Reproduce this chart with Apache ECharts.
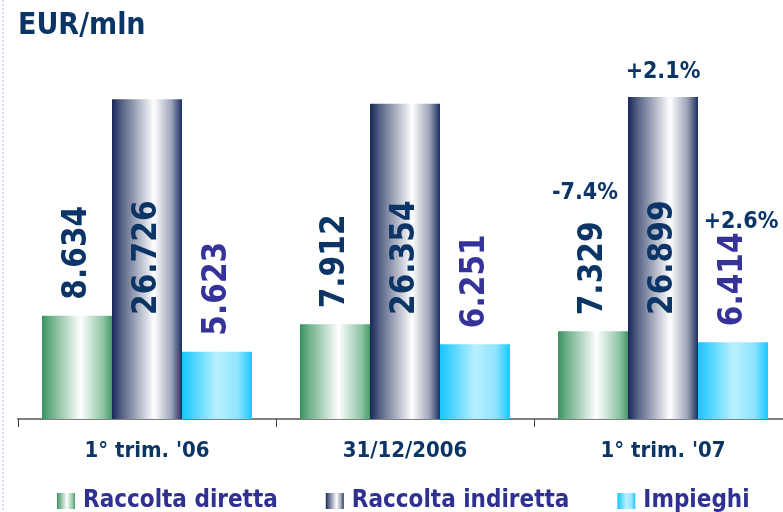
<!DOCTYPE html>
<html>
<head>
<meta charset="utf-8">
<script src="https://cdn.jsdelivr.net/npm/echarts@6/dist/echarts.min.js"></script>
<style>
html,body{margin:0;padding:0;background:#fff;}
#chart{width:783px;height:512px;}
</style>
</head>
<body>
<div id="chart"></div>
<script>
// ---- data ----
var categories = ["1° trim. '06", "31/12/2006", "1° trim. '07"];
var raccoltaDiretta = [8634, 7912, 7329];
var raccoltaIndiretta = [26726, 26354, 26899];
var impieghi = [5623, 6251, 6414];
var seriesNames = ["Raccolta diretta", "Raccolta indiretta", "Impieghi"];
var changeLabels = ["-7.4%", "+2.1%", "+2.6%"]; // last period vs 31/12/2006
var titleText = "EUR/mln";

// ---- styling ----
var FONT = '"DejaVu Sans Condensed", "DejaVu Sans", sans-serif';
var NAVY = '#0b3566';
var PURPLE = '#35339a';

function grad(stops) {
  return new echarts.graphic.LinearGradient(0, 0, 1, 0, stops.map(function (s) {
    return { offset: s[0], color: s[1] };
  }));
}
var greenGrad = grad([[0, '#38935f'], [0.12, '#6aae86'], [0.55, '#ffffff'], [0.88, '#8cc3a2'], [1, '#46996a']]);
var navyGrad = grad([[0, '#16295a'], [0.15, '#5a6587'], [0.6, '#ffffff'], [0.85, '#9ca3b8'], [1, '#1b2e60']]);
var cyanGrad = grad([[0, '#15c6ff'], [0.5, '#b8f0ff'], [0.8, '#8fe3ff'], [1, '#18c8ff']]);

function fmt(v) {
  var s = String(v);
  return s.length > 3 ? s.slice(0, s.length - 3) + '.' + s.slice(s.length - 3) : s;
}

var lastCat = categories[categories.length - 1];
function changePoint(label, value, offset) {
  return {
    coord: [lastCat, value],
    symbol: 'circle',
    symbolSize: 1,
    itemStyle: { color: 'rgba(0,0,0,0)' },
    label: {
      show: true, position: 'inside', offset: offset,
      formatter: label, color: NAVY, fontFamily: FONT, fontWeight: 'bold', fontSize: 23
    }
  };
}

var valueLabelBase = {
  show: true, rotate: 90, align: 'left', verticalAlign: 'middle',
  fontFamily: FONT, fontWeight: 'bold', fontSize: 33,
  formatter: function (p) { return fmt(p.value); }
};

var chart = echarts.init(document.getElementById('chart'), null, { renderer: 'canvas' });
chart.setOption({
  animation: false,
  backgroundColor: '#ffffff',
  title: {
    text: titleText, left: 13, top: 6,
    textStyle: { fontFamily: FONT, fontWeight: 'bold', fontSize: 30, color: NAVY }
  },
  graphic: [{
    type: 'line', shape: { x1: 3, y1: 0, x2: 3, y2: 512 },
    style: { stroke: '#a9b6e6', lineWidth: 1, lineDash: [2, 2] }
  }],
  legend: {
    data: seriesNames,
    left: 52, top: 484,
    itemWidth: 18, itemHeight: 16, itemGap: 48,
    icon: 'rect',
    textStyle: { fontFamily: FONT, fontWeight: 'bold', fontSize: 24, color: '#2e3192', padding: [0, 0, 0, 3] }
  },
  grid: { left: 18, width: 774, top: 60, height: 359, containLabel: false, outerBoundsMode: 'none' },
  xAxis: {
    type: 'category', data: categories,
    axisLine: { lineStyle: { color: '#7f7f7f', width: 2 } },
    axisTick: { show: true, length: 8, lineStyle: { color: '#3f3f3f', width: 1 } },
    axisLabel: { margin: 21, fontFamily: FONT, fontWeight: 'bold', fontSize: 22, color: NAVY }
  },
  yAxis: { type: 'value', min: 0, max: 30000, show: false, splitLine: { show: false } },
  series: [{
    name: seriesNames[0], type: 'bar', data: raccoltaDiretta,
    barWidth: 70, barGap: '0%',
    itemStyle: { color: greenGrad },
    label: Object.assign({}, valueLabelBase, { position: 'top', distance: 16, color: NAVY }),
    markPoint: { data: [changePoint(changeLabels[0], raccoltaDiretta[2], [-8, -138])] }
  }, {
    name: seriesNames[1], type: 'bar', data: raccoltaIndiretta,
    barWidth: 70, barGap: '0%',
    itemStyle: { color: navyGrad },
    label: Object.assign({}, valueLabelBase, { position: 'insideBottom', distance: 104, color: NAVY }),
    markPoint: { data: [changePoint(changeLabels[1], raccoltaIndiretta[2], [0, -25])] }
  }, {
    name: seriesNames[2], type: 'bar', data: impieghi,
    barWidth: 70, barGap: '0%',
    itemStyle: { color: cyanGrad },
    label: Object.assign({}, valueLabelBase, { position: 'top', distance: 16, color: PURPLE }),
    markPoint: { data: [changePoint(changeLabels[2], impieghi[2], [8, -120])] }
  }]
});
</script>
</body>
</html>
